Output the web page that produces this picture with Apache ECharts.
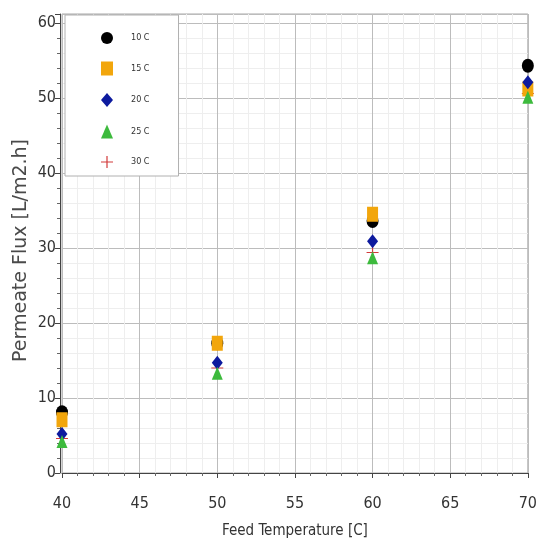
<!DOCTYPE html>
<html><head><meta charset="utf-8">
<script src="https://cdn.jsdelivr.net/npm/echarts@6/dist/echarts.min.js"></script>
<style>html,body{margin:0;padding:0;background:#fff}#c{width:540px;height:544px}</style>
</head><body><div id="c"></div>
<script>
const temps = [40, 50, 60, 70];
const names = ['10 C', '15 C', '20 C', '25 C', '30 C'];
const flux10 = [8.1, 17.3, 33.6, 54.3];
const flux15 = [7.1, 17.3, 34.5, 51.2];
const flux20 = [5.2, 14.7, 30.9, 52.1];
const flux25 = [4.2, 13.3, 28.7, 50.1];
const flux30 = [4.6, 14.0, 29.4, 50.6];
const xTicks = [40, 45, 50, 55, 60, 65, 70];
const yTicks = [0, 10, 20, 30, 40, 50, 60];

const plusPath = 'path://M4.5,0 L5.5,0 L5.5,4.5 L10,4.5 L10,5.5 L5.5,5.5 L5.5,10 L4.5,10 L4.5,5.5 L0,5.5 L0,4.5 L4.5,4.5 Z';
const styles = [
  {symbol:'circle', size:[12,14], color:'#000000', z:3},
  {symbol:'rect', size:[11,15], color:'#f2a60c', z:4},
  {symbol:'diamond', size:[11,14], color:'#0d1a9e', z:5},
  {symbol:'triangle', size:[11,13], color:'#3dba3d', z:6},
  {symbol:plusPath, size:[12,12], color:'#d23a3a', z:2}
];
const allData = [flux10, flux15, flux20, flux25, flux30];
const series = names.map((n, i) => ({
  name: n, type: 'scatter', symbol: styles[i].symbol, symbolSize: styles[i].size,
  symbolKeepAspect: true,
  z: styles[i].z,
  itemStyle: {color: styles[i].color, opacity: 1},
  data: temps.map((t, j) => [t, allData[i][j]])
}));

const chart = echarts.init(document.getElementById('c'), null, {renderer:'canvas'});
const font = "'DejaVu Sans Condensed', 'DejaVu Sans', sans-serif";
chart.setOption({
  animation: false,
  backgroundColor: '#ffffff',
  grid: {left: 62, right: 11, top: 14, bottom: 71, show: true, borderColor: '#a8a8a8', borderWidth: 1, backgroundColor: '#fff'},
  legend: {
    orient: 'vertical', left: 65, top: 15,
    data: names,
    backgroundColor: '#fff', borderColor: '#b0b0b0', borderWidth: 1,
    padding: [17, 29, 8, 36],
    itemWidth: 12, itemHeight: 14, itemGap: 17.5,
    textStyle: {fontFamily: font, fontSize: 9, color: '#333', padding: [0, 0, 0, 13]}
  },
  xAxis: {
    type: 'value', min: xTicks[0], max: xTicks[xTicks.length-1], interval: 5,
    offset: 10,
    name: 'Feed Temperature [C]', nameLocation: 'middle', nameGap: 41,
    nameMoveOverlap: false,
    nameTextStyle: {fontFamily: font, fontSize: 15, color: '#333'},
    axisLine: {show: true, lineStyle: {color: '#444', width: 1}},
    axisTick: {show: true, length: 5, lineStyle: {color: '#444'}},
    minorTick: {show: true, splitNumber: 5, length: 3, lineStyle: {color: '#666'}},
    axisLabel: {fontFamily: font, fontSize: 16, color: '#333', margin: 13},
    splitLine: {show: true, lineStyle: {color: '#bcbcbc', width: 1}},
    minorSplitLine: {show: true, lineStyle: {color: '#eeeeee', width: 1}}
  },
  yAxis: {
    type: 'value', min: yTicks[0], max: 61.2, interval: 10,
    offset: 2,
    name: 'Permeate Flux [L/m2.h]', nameLocation: 'middle', nameGap: 29,
    nameMoveOverlap: false,
    nameTextStyle: {fontFamily: "'DejaVu Sans', sans-serif", fontSize: 19, color: '#4a4a4a', padding: [0, 14, 0, 0]},
    axisLine: {show: true, lineStyle: {color: '#444', width: 1}},
    axisTick: {show: true, length: 5, lineStyle: {color: '#444'}},
    minorTick: {show: true, splitNumber: 5, length: 3, lineStyle: {color: '#666'}},
    axisLabel: {fontFamily: font, fontSize: 16, color: '#333', margin: 4, showMaxLabel: false,
      formatter: v => (yTicks.indexOf(v) >= 0 ? String(v) : '')},
    splitLine: {show: true, lineStyle: {color: '#bcbcbc', width: 1}},
    minorSplitLine: {show: true, lineStyle: {color: '#eeeeee', width: 1}}
  },
  series: series
});
</script></body></html>
